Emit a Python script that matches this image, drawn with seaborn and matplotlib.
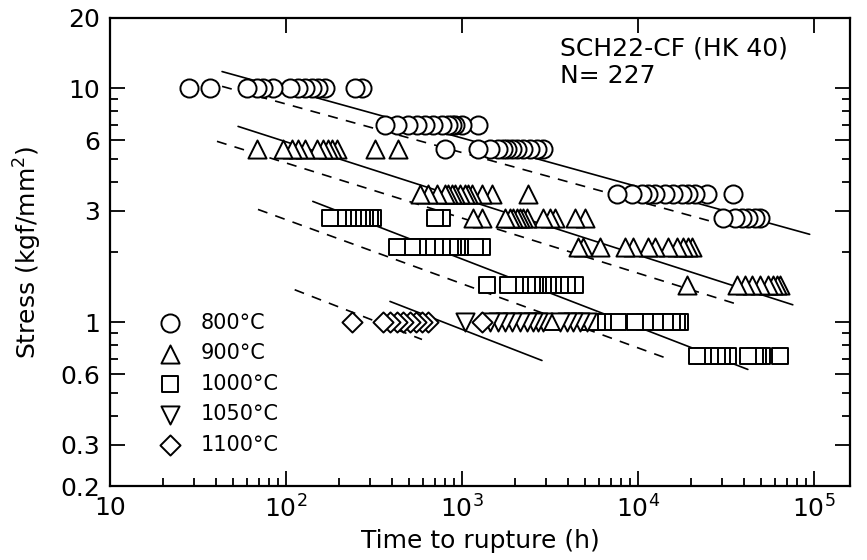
import numpy as np
import pandas as pd
import matplotlib
matplotlib.use("Agg")
import matplotlib.pyplot as plt
import seaborn as sns
from matplotlib.ticker import FixedLocator, FixedFormatter, NullFormatter

# rupture data: stress level (kgf/mm2) -> times (h)
c800_stress = [10, 7, 5.5, 3.55, 2.8]
c800_hours = [
    [28, 37, 60, 68, 74, 84, 105, 117, 128, 141, 152, 167, 247, 270],
    [365, 427, 493, 555, 616, 684, 770, 832, 877, 913, 1000, 1233],
    [800, 1233, 1443, 1602, 1711, 1803, 1925, 2054, 2222, 2434, 2668, 2884],
    [7600, 9250, 10540, 11400, 12500, 14230, 15800, 17780, 19230, 21080, 24660, 34670],
    [30400, 35560, 39000, 42170, 46220, 49340],
]
c900_stress = [5.5, 3.55, 2.8, 2.1, 1.45]
c900_hours = [
    [68, 96, 108, 117, 128, 150, 162, 173, 183, 195, 321, 433],
    [577, 641, 721, 800, 832, 877, 913, 975, 1040, 1082, 1140, 1300, 1480, 2372],
    [1156, 1300, 1754, 1874, 1950, 2054, 2138, 2222, 2340, 2884, 3162, 3377, 4385, 4997],
    [4560, 4870, 6085, 8435, 9370, 11400, 12500, 14800, 16670, 18030, 19230, 20280],
    [18970, 36570, 40580, 44460, 49340, 54770, 58480, 61660, 64120],
]
c1000_stress = [2.8, 2.1, 1.45, 1.0, 0.72]
c1000_hours = [
    [178, 197, 211, 225, 240, 257, 270, 281, 300, 312, 703, 770],
    [427, 520, 562, 633, 703, 770, 855, 889, 937, 975, 1186, 1300],
    [1387, 1825, 1998, 2138, 2340, 2500, 2600, 2705, 2884, 3082, 3290, 3605, 3953, 4385],
    [3290, 5335, 5845, 6325, 7690, 9610, 10960, 12500, 14230, 15600, 16670, 17330],
    [21630, 23390, 25640, 28120, 30000, 32460, 42170, 46220, 48080, 50700, 64120],
]
c1050_stress = [1.0]
c1050_hours = [[1040, 1443, 1602, 1754, 1925, 2138, 2340, 2530, 2705, 2884,
                3605, 3953, 4276, 4680, 5130]]
c1100_stress = [1.0]
c1100_hours = [[237, 356, 390, 427, 462, 507, 548, 593, 641, 1300]]

temps = ["800°C", "900°C", "1000°C", "1050°C", "1100°C"]
markers = ["o", "^", "s", "v", "D"]
sizes = [170, 170, 130, 170, 105]

# fitted lines (solid = mean, dashed = lower), endpoints
line_800_mean = ([43.3, 94800], [11.8, 2.38])
line_800_low = ([43.3, 26300], [10.2, 2.70])
line_900_mean = ([53.4, 76000], [6.88, 1.19])
line_900_low = ([40.5, 35600], [5.94, 1.205])
line_1000_mean = ([142, 42200], [3.29, 0.63])
line_1000_low = ([69.3, 15200], [3.04, 0.695])
line_1100_mean = ([390, 2850], [1.23, 0.688])
line_1100_low = ([112, 593], [1.38, 0.846])

rows = []
for temp, stress, hours in zip(
        temps,
        [c800_stress, c900_stress, c1000_stress, c1050_stress, c1100_stress],
        [c800_hours, c900_hours, c1000_hours, c1050_hours, c1100_hours]):
    for s, hs in zip(stress, hours):
        for h in hs:
            rows.append((temp, h, s))
df = pd.DataFrame(rows, columns=["temp", "hours", "stress"])
# left markers sit on top of right ones in the original
df = df.sort_values("hours", ascending=False)

sns.set_style("ticks")
plt.rcParams["font.family"] = ["DejaVu Sans"]
plt.rcParams["text.color"] = "black"
plt.rcParams["axes.labelcolor"] = "black"

fig = plt.figure(figsize=(8.67, 5.6), dpi=100)
ax = fig.add_axes([0.127, 0.132, 0.853, 0.836])

for ln in [line_800_mean, line_900_mean, line_1000_mean, line_1100_mean]:
    ax.plot(ln[0], ln[1], color="black", lw=1.2, zorder=1)
for ln in [line_800_low, line_900_low, line_1000_low, line_1100_low]:
    ax.plot(ln[0], ln[1], color="black", lw=1.2, ls=(0, (6, 5)), zorder=1)

for temp, mk, size in zip(temps, markers, sizes):
    sub = df[df["temp"] == temp]
    sns.scatterplot(data=sub, x="hours", y="stress", marker=mk, color="white",
                    edgecolor="black", linewidth=1.4, s=size, ax=ax,
                    label=temp, zorder=3)

ax.set_xscale("log")
ax.set_yscale("log")
ax.set_xlim(10, 1.6e5)
ax.set_ylim(0.2, 20)

ax.xaxis.set_major_locator(FixedLocator([10, 1e2, 1e3, 1e4, 1e5]))
ax.xaxis.set_major_formatter(FixedFormatter(["10", "$10^2$", "$10^3$", "$10^4$", "$10^5$"]))
xminor = [m * 10.0 ** e for e in range(1, 6) for m in range(2, 10)]
ax.xaxis.set_minor_locator(FixedLocator(xminor))
ax.xaxis.set_minor_formatter(NullFormatter())

ax.yaxis.set_major_locator(FixedLocator([0.2, 0.3, 0.6, 1, 3, 6, 10, 20]))
ax.yaxis.set_major_formatter(FixedFormatter(["0.2", "0.3", "0.6", "1", "3", "6", "10", "20"]))
yminor = [0.4, 0.5, 0.7, 0.8, 0.9, 2, 4, 5, 7, 8, 9]
ax.yaxis.set_minor_locator(FixedLocator(yminor))
ax.yaxis.set_minor_formatter(NullFormatter())

ax.tick_params(which="both", direction="in", top=True, right=True,
               labelsize=18, width=1.3, color="black", labelcolor="black")
ax.tick_params(which="major", length=11, pad=7)
ax.tick_params(which="minor", length=6)
ax.tick_params(axis="x", which="minor", top=False)
for sp in ax.spines.values():
    sp.set_linewidth(1.6)
    sp.set_color("black")

ax.set_xlabel("Time to rupture (h)", fontsize=18, labelpad=4)
ax.set_ylabel("Stress (kgf/mm$^2$)", fontsize=18, labelpad=12)

ax.text(0.608, 0.935, "SCH22-CF (HK 40)", transform=ax.transAxes,
        fontsize=18, va="center", ha="left")
ax.text(0.608, 0.875, "N= 227", transform=ax.transAxes,
        fontsize=18, va="center", ha="left")

leg = ax.legend(loc="lower left", bbox_to_anchor=(0.055, 0.045), frameon=False,
                fontsize=15, labelspacing=0.5, handletextpad=1.1,
                handlelength=0.8, borderpad=0)

fig.savefig("out.png", dpi=100)
